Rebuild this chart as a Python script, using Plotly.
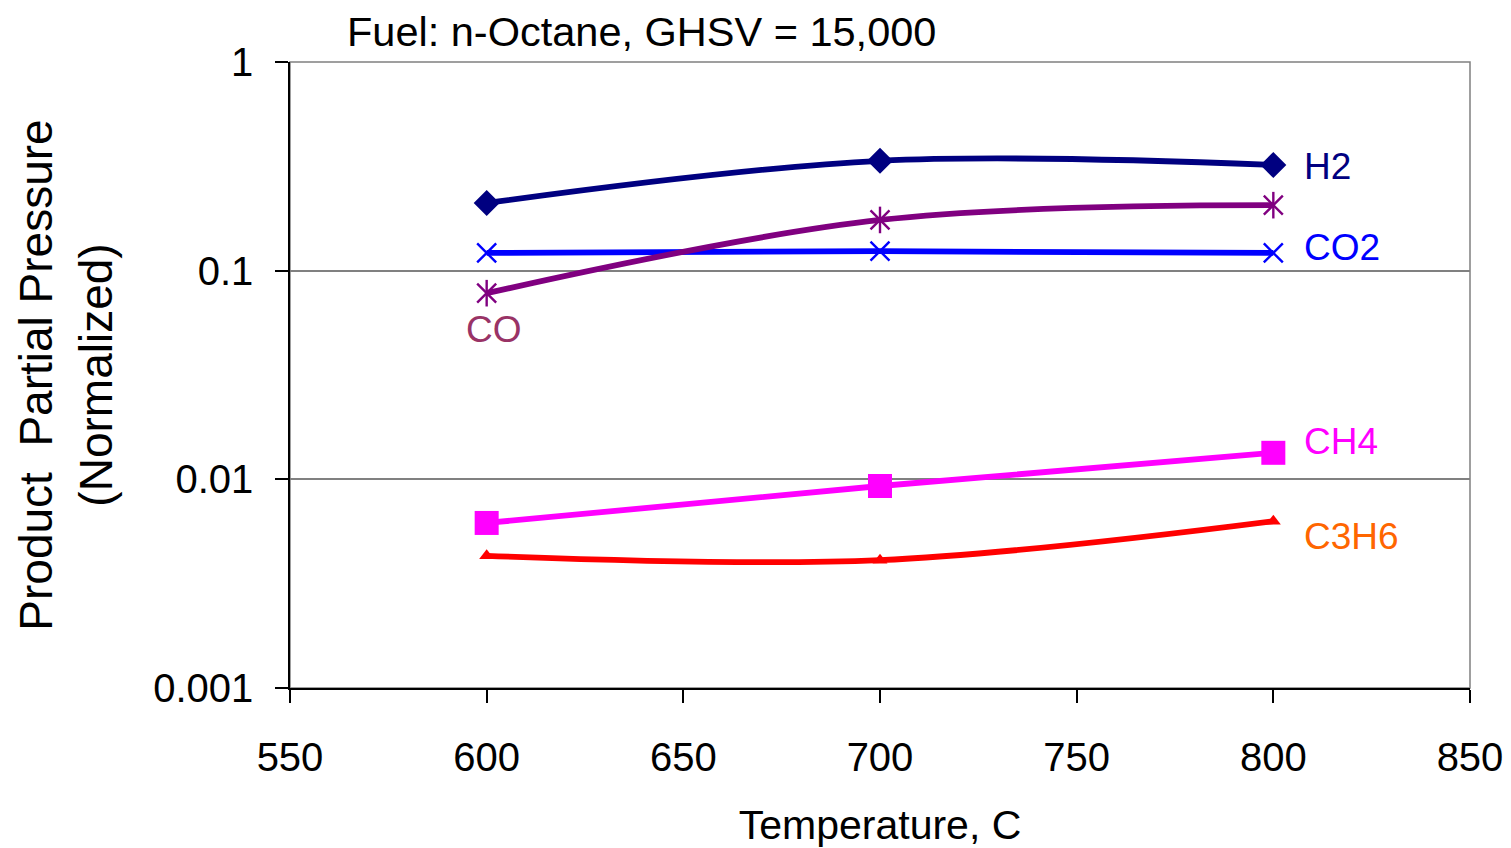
import math
import plotly.graph_objects as go

# Reactor temperature (C)
temperature = [600, 700, 800]

# Normalized product partial pressures
h2 = [0.211, 0.336, 0.321]
co2 = [0.1216, 0.124, 0.1216]
co = [0.078, 0.175, 0.206]
ch4 = [0.00618, 0.00929, 0.0134]
c3h6 = [0.0043, 0.0041, 0.0063]

species = ["H2", "CO2", "CO", "CH4", "C3H6"]

FONT = "Liberation Sans, Arial, sans-serif"

fig = go.Figure()

line_w = 5.8

fig.add_trace(go.Scatter(
    x=temperature, y=h2, mode="lines+markers", name=species[0],
    line=dict(color="#000080", width=line_w, shape="spline", smoothing=1),
    marker=dict(symbol="diamond", size=20, color="#000080"),
))
fig.add_trace(go.Scatter(
    x=temperature, y=co2, mode="lines+markers", name=species[1],
    line=dict(color="#0000FF", width=line_w, shape="spline", smoothing=1),
    marker=dict(symbol="x-thin-open", size=19, color="#0000FF",
                line=dict(color="#0000FF", width=2.4)),
))
fig.add_trace(go.Scatter(
    x=temperature, y=co, mode="lines+markers", name=species[2],
    line=dict(color="#800080", width=line_w, shape="spline", smoothing=1),
    marker=dict(symbol="x-thin-open", size=19, color="#800080",
                line=dict(color="#800080", width=2.4)),
))
# vertical stroke completing the star marker of CO
fig.add_trace(go.Scatter(
    x=temperature, y=co, mode="markers", showlegend=False,
    marker=dict(symbol="line-ns-open", size=19, color="#800080",
                line=dict(color="#800080", width=2.4)),
))
fig.add_trace(go.Scatter(
    x=temperature, y=ch4, mode="lines+markers", name=species[3],
    line=dict(color="#FF00FF", width=line_w, shape="spline", smoothing=1),
    marker=dict(symbol="square", size=24, color="#FF00FF"),
))
fig.add_trace(go.Scatter(
    x=temperature, y=c3h6, mode="lines+markers", name=species[4],
    line=dict(color="#FF0000", width=line_w, shape="spline", smoothing=1),
    marker=dict(symbol="triangle-up", size=13, color="#FF0000"),
))

# series labels (annotation y on a log axis is given as log10)
label_specs = [
    (species[0], 807.4, 0.314, "#000080", "left"),
    (species[1], 807.4, 0.1298, "#0000FF", "left"),
    (species[2], 601.8, 0.0525, "#993366", "center"),
    (species[3], 807.4, 0.0151, "#FF00FF", "left"),
    (species[4], 807.4, 0.0053, "#FF6600", "left"),
]
for text, lx, ly, col, anchor in label_specs:
    fig.add_annotation(
        x=lx, y=math.log10(ly), xref="x", yref="y", yanchor="middle", xanchor=anchor,
        text=text, showarrow=False, font=dict(family=FONT, size=37, color=col),
    )

fig.add_annotation(
    x=(345 - 290) / 1180, y=1 + (62 - 32) / 626, xref="paper", yref="paper",
    xanchor="left", yanchor="middle", showarrow=False,
    text="Fuel: n-Octane, GHSV = 15,000",
    font=dict(family=FONT, size=41.5, color="black"),
)

# plot-area frame (top and right edges)
fig.add_shape(type="rect", xref="x domain", yref="y domain", x0=0, x1=1, y0=0, y1=1,
              line=dict(color="#808080", width=1.5), layer="below")

fig.update_layout(
    width=1511, height=848,
    margin=dict(l=290, r=41, t=62, b=160, autoexpand=False),
    paper_bgcolor="white", plot_bgcolor="white",
    showlegend=False,
    font=dict(family=FONT, color="black"),
)
fig.update_xaxes(
    automargin=False,
    range=[550, 850], tickvals=[550, 600, 650, 700, 750, 800, 850],
    showgrid=False, zeroline=False,
    showline=True, linecolor="black", linewidth=1.5,
    ticks="outside", ticklen=13, tickcolor="black", tickwidth=1.5,
    tickfont=dict(family=FONT, size=40), ticklabelstandoff=20,
    title=dict(text="Temperature, C", font=dict(family=FONT, size=41), standoff=40),
)
fig.update_yaxes(
    automargin=False,
    type="log", range=[-3, 0],
    tickvals=[0.001, 0.01, 0.1, 1], ticktext=["0.001", "0.01", "0.1", "1"],
    showgrid=True, gridcolor="#808080", gridwidth=1.5, zeroline=False,
    showline=True, linecolor="black", linewidth=1.5,
    ticks="outside", ticklen=13, tickcolor="black", tickwidth=1.5,
    tickfont=dict(family=FONT, size=40), ticklabelstandoff=14,
    title=dict(text="Product  Partial Pressure<br>(Normalized)",
               font=dict(family=FONT, size=46), standoff=26),
)

fig.write_html("out.html")
